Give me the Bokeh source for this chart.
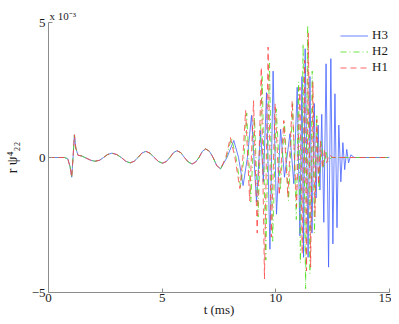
from bokeh.plotting import figure
from bokeh.models import Legend, LegendItem, Range1d, FixedTicker
from bokeh.embed import file_html
from bokeh.resources import INLINE

# ---- data (values in units of 1e-3) ----
x_ticks = [0, 5, 10, 15]
y_ticks = [-5, 0, 5]

# early part, common to all three runs
t_onset = [0.0, 0.7, 0.85, 0.95, 1.02, 1.08, 1.14, 1.2, 1.3, 1.45,
           1.7, 1.85, 2.05, 2.25, 2.42, 2.6, 2.79, 3.0, 3.2, 3.4,
           3.59, 3.77, 3.94, 4.1, 4.28, 4.46, 4.65, 4.84, 5.02, 5.18,
           5.34, 5.5, 5.65, 5.82, 5.98, 6.15, 6.32, 6.47, 6.62, 6.77,
           6.91, 7.08, 7.24, 7.4, 7.57]
v_onset = [0.0, 0.0, -0.05, -0.35, -0.73, 0.0, 0.84, 0.35, 0.08, 0.06,
           -0.04, -0.1, -0.14, -0.1, 0.0, 0.11, 0.16, 0.11, 0.0, -0.14,
           -0.2, -0.14, 0.0, 0.16, 0.23, 0.16, 0.0, -0.15, -0.21, -0.15,
           0.0, 0.18, 0.25, 0.18, 0.0, -0.17, -0.24, -0.17, 0.0, 0.23,
           0.32, 0.23, 0.0, -0.3, -0.42]

# H3 (late part)
t_h3 = [7.85, 8.15, 8.36, 8.56, 8.75, 8.93, 9.15, 9.33, 9.45, 9.59,
        9.74, 9.88, 10.03, 10.21, 10.38, 10.62, 10.79, 10.94, 11.06, 11.15,
        11.22, 11.29, 11.42, 11.5, 11.59, 11.69, 11.77, 11.86, 11.94, 12.02,
        12.11, 12.21, 12.32, 12.42, 12.51, 12.6, 12.69, 12.77, 12.86, 12.95,
        13.03, 13.12, 13.2, 13.3, 13.45, 15.0]
v_h3 = [0.0, 0.63, 0.0, -1.04, 0.0, 1.56, -1.65, 1.0, -0.9, 2.4,
        -3.4, 3.2, -2.1, 1.05, -0.73, 0.88, -0.97, 2.6, -2.9, 3.0,
        -3.7, 4.03, -3.7, 3.0, -2.8, 2.0, -1.5, 1.2, -1.2, 1.6,
        -2.4, 3.47, -4.06, 3.66, -3.2, 2.36, -2.6, 1.2, -0.9, 0.55,
        -0.45, 0.3, -0.2, 0.1, 0.0, 0.0]

# H2 (late part)
t_h2 = [7.82, 8.05, 8.25, 8.45, 8.6, 8.72, 8.9, 9.06, 9.22, 9.4,
        9.56, 9.72, 9.86, 10.02, 10.2, 10.38, 10.56, 10.74, 10.9, 11.0,
        11.08, 11.2, 11.31, 11.4, 11.5, 11.6, 11.7, 11.8, 11.9, 12.0,
        12.1, 12.2, 12.3, 12.45, 15.0]
v_h2 = [0.0, 0.72, 0.0, -1.1, 0.0, 1.65, -1.65, 1.5, -2.2, 3.0,
        -3.8, 3.5, -3.1, 1.8, -1.2, 1.3, -1.6, 2.0, -2.3, 2.8,
        -3.9, 4.2, -4.86, 4.9, -4.3, 3.2, -2.8, 1.6, -1.2, 0.6,
        -0.4, 0.25, -0.15, 0.0, 0.0]

# H1 (late part)
t_h1 = [7.8, 8.0, 8.2, 8.42, 8.55, 8.67, 8.85, 9.02, 9.18, 9.36,
        9.5, 9.66, 9.8, 9.97, 10.15, 10.35, 10.53, 10.72, 10.91, 11.06,
        11.16, 11.27, 11.35, 11.43, 11.53, 11.63, 11.72, 11.8, 11.88, 11.96,
        12.05, 12.14, 12.23, 12.35, 12.5, 15.0]
v_h1 = [0.0, 0.74, 0.0, -1.15, 0.0, 1.74, -1.6, 2.1, -2.8, 3.34,
        -4.5, 4.09, -2.95, 2.0, -1.4, 1.37, -1.47, 2.1, -1.84, 2.6,
        -3.57, 3.6, -4.2, 4.6, -4.06, 2.8, -2.2, 1.4, -1.0, 0.6,
        -0.4, 0.3, -0.2, 0.1, 0.0, 0.0]

series_names = ["H3", "H2", "H1"]
series_colors = ["#4562ff", "#4fe01a", "#ff4040"]

FONT = "Liberation Serif"
TXT = "#1a1a1a"

p = figure(width=391, height=324, output_backend="svg", toolbar_location=None,
           x_range=Range1d(0, 15), y_range=Range1d(-5, 5),
           title="x 10\u207b\u00b3",
           min_border_left=48, min_border_right=2, min_border_top=22,
           min_border_bottom=32)
p.outline_line_color = None
p.grid.visible = False
p.background_fill_color = "white"

p.title.align = "left"
p.title.offset = 1
p.title.standoff = 2
p.title.text_font = FONT
p.title.text_font_size = "11px"
p.title.text_font_style = "normal"
p.title.text_color = TXT

r3 = p.line(t_onset + t_h3, v_onset + v_h3, line_color=series_colors[0],
            line_alpha=0.8, line_width=1)
r2 = p.line(t_onset + t_h2, v_onset + v_h2, line_color=series_colors[1],
            line_alpha=0.8, line_width=1, line_dash="6 3 1 3")
r1 = p.line(t_onset + t_h1, v_onset + v_h1, line_color=series_colors[2],
            line_alpha=0.8, line_width=1, line_dash="6 4")

for ax in (p.xaxis[0], p.yaxis[0]):
    ax.axis_line_color = "#8c8c8c"
    ax.major_tick_line_color = "#8c8c8c"
    ax.major_tick_in = 4
    ax.major_tick_out = 0
    ax.minor_tick_line_color = None
    ax.major_label_text_font = FONT
    ax.major_label_text_font_size = "13px"
    ax.major_label_text_color = TXT
    ax.axis_label_text_font = FONT
    ax.axis_label_text_font_size = "13px"
    ax.axis_label_text_font_style = "normal"
    ax.axis_label_text_color = TXT
p.xaxis.ticker = FixedTicker(ticks=x_ticks)
p.yaxis.ticker = FixedTicker(ticks=y_ticks)
p.xaxis.major_label_standoff = 1
p.yaxis.major_label_standoff = 3
p.yaxis.major_label_overrides = {-5: "\u22125"}
p.xaxis.axis_label = "t (ms)"
p.xaxis.axis_label_standoff = -3
p.yaxis.axis_label = "r \u03c8\u2074\u2082\u2082"
p.yaxis.axis_label_text_font_size = "14px"
p.yaxis.axis_label_standoff = 9

legend = Legend(items=[LegendItem(label=series_names[0], renderers=[r3]),
                       LegendItem(label=series_names[1], renderers=[r2]),
                       LegendItem(label=series_names[2], renderers=[r1])],
                location=(292, 217), padding=0, margin=0, spacing=0,
                glyph_width=28, glyph_height=15, label_height=16,
                label_standoff=4, label_text_font=FONT,
                label_text_font_size="13px", label_text_color=TXT,
                background_fill_alpha=0, border_line_alpha=0)
p.add_layout(legend)

open("out.html", "w").write(file_html(p, INLINE))
